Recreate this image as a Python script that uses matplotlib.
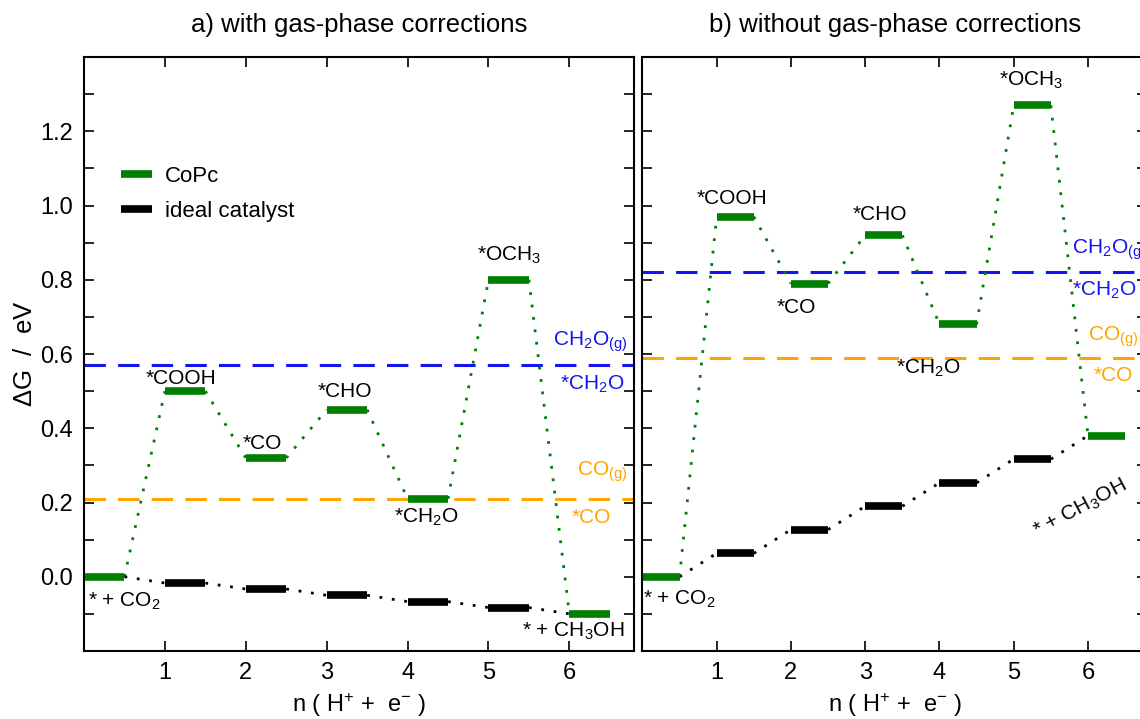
import matplotlib
matplotlib.use("Agg")
import matplotlib.pyplot as plt
from matplotlib.lines import Line2D

plt.rcParams['font.family'] = ['Liberation Sans', 'DejaVu Sans']
plt.rcParams['mathtext.fontset'] = 'custom'
plt.rcParams['mathtext.rm'] = 'Liberation Sans'
plt.rcParams['mathtext.it'] = 'Liberation Sans'
plt.rcParams['mathtext.default'] = 'regular'

# reaction steps n = 0..6
steps = [0, 1, 2, 3, 4, 5, 6]

# a) with gas-phase corrections
copc_a = [0.00, 0.50, 0.32, 0.45, 0.21, 0.80, -0.10]
ideal_a = [0.00, -0.017, -0.033, -0.050, -0.067, -0.083, -0.10]
ch2o_a = 0.57
co_a = 0.21

# b) without gas-phase corrections
copc_b = [0.00, 0.97, 0.79, 0.92, 0.68, 1.27, 0.38]
ideal_b = [0.00, 0.063, 0.127, 0.190, 0.253, 0.317, 0.38]
ch2o_b = 0.82
co_b = 0.59

green = '#008000'
blue = '#1414f0'
orange = '#ffa500'
W = 0.5  # width of a level bar


def draw_panel(ax, copc, ideal, ch2o, co):
    # dotted connectors
    for i in range(len(steps) - 1):
        ax.plot([steps[i] + W, steps[i + 1]], [copc[i], copc[i + 1]],
                color=green, lw=2, ls=(0, (1, 3.5)))
        ax.plot([steps[i] + W, steps[i + 1]], [ideal[i], ideal[i + 1]],
                color='black', lw=2, ls=(0, (1, 3.5)))
    # ideal catalyst levels (inner steps only)
    for i in steps[1:-1]:
        ax.plot([i, i + W], [ideal[i], ideal[i]], color='black', lw=5.5,
                solid_capstyle='butt')
    for i in steps:
        ax.plot([i, i + W], [copc[i], copc[i]], color=green, lw=5.5,
                solid_capstyle='butt')
    ax.axhline(ch2o, color=blue, lw=2.2, ls=(0, (7, 4)), zorder=0)
    ax.axhline(co, color=orange, lw=2.2, ls=(0, (7, 4)), zorder=0)

    ax.set_xlim(0, 6.8)
    ax.set_ylim(-0.2, 1.4)
    ax.set_xticks([1, 2, 3, 4, 5, 6])
    ax.set_yticks([-0.1 + 0.1 * k for k in range(15)], minor=True)
    ax.set_yticks([0.0, 0.2, 0.4, 0.6, 0.8, 1.0, 1.2])
    ax.tick_params(which='both', direction='in', top=True, right=True,
                   length=7, width=1.2, labelsize=17)
    ax.tick_params(axis='x', pad=8)
    ax.tick_params(axis='y', pad=8)
    for s in ax.spines.values():
        s.set_linewidth(1.5)
    ax.set_xlabel('n ( H$^{+}$ +  e$^{-}$ )', fontsize=17, labelpad=5)


fig = plt.figure(figsize=(11.4, 7.19), dpi=100)
ax1 = fig.add_axes([0.0737, 0.0946, 0.4825, 0.826])
ax2 = fig.add_axes([0.5635, 0.0946, 0.443, 0.826])

draw_panel(ax1, copc_a, ideal_a, ch2o_a, co_a)
draw_panel(ax2, copc_b, ideal_b, ch2o_b, co_b)
ax2.set_yticklabels([])
ax1.set_ylabel('$\\Delta$G  /  eV', fontsize=18.5, labelpad=2)
ax1.set_title('a) with gas-phase corrections', fontsize=18.5, pad=18)
ax2.set_title('b) without gas-phase corrections', fontsize=18.5, pad=18)

fs = 15
# panel a labels
ax1.text(1.2, 0.535, '*COOH', fontsize=fs, ha='center', va='center')
ax1.text(2.2, 0.36, '*CO', fontsize=fs, ha='center', va='center')
ax1.text(3.22, 0.50, '*CHO', fontsize=fs, ha='center', va='center')
ax1.text(4.23, 0.16, '*CH$_2$O', fontsize=fs, ha='center', va='center')
ax1.text(5.25, 0.865, '*OCH$_3$', fontsize=fs, ha='center', va='center')
ax1.text(0.5, -0.067, '* + CO$_2$', fontsize=fs, ha='center', va='center')
ax1.text(6.05, -0.148, '* + CH$_3$OH', fontsize=fs, ha='center', va='center')
ax1.text(6.72, 0.632, 'CH$_2$O$_{(g)}$', fontsize=fs, color=blue, ha='right', va='center')
ax1.text(6.68, 0.517, '*CH$_2$O', fontsize=fs, color=blue, ha='right', va='center')
ax1.text(6.72, 0.283, 'CO$_{(g)}$', fontsize=fs, color=orange, ha='right', va='center')
ax1.text(6.52, 0.159, '*CO', fontsize=fs, color=orange, ha='right', va='center')

# panel b labels
ax2.text(1.21, 1.02, '*COOH', fontsize=fs, ha='center', va='center')
ax2.text(2.07, 0.726, '*CO', fontsize=fs, ha='center', va='center')
ax2.text(3.2, 0.977, '*CHO', fontsize=fs, ha='center', va='center')
ax2.text(3.85, 0.562, '*CH$_2$O', fontsize=fs, ha='center', va='center')
ax2.text(5.24, 1.337, '*OCH$_3$', fontsize=fs, ha='center', va='center')
ax2.text(0.5, -0.062, '* + CO$_2$', fontsize=fs, ha='center', va='center')
ax2.text(5.9, 0.185, '* + CH$_3$OH', fontsize=fs, ha='center', va='center', rotation=28)
ax2.text(5.78, 0.88, 'CH$_2$O$_{(g)}$', fontsize=fs, color=blue, ha='left', va='center')
ax2.text(5.79, 0.772, '*CH$_2$O', fontsize=fs, color=blue, ha='left', va='center')
ax2.text(6.0, 0.646, 'CO$_{(g)}$', fontsize=fs, color=orange, ha='left', va='center')
ax2.text(6.07, 0.543, '*CO', fontsize=fs, color=orange, ha='left', va='center')

handles = [Line2D([], [], color=green, lw=5.5, solid_capstyle='butt'),
           Line2D([], [], color='black', lw=5.5, solid_capstyle='butt')]
ax1.legend(handles, ['CoPc', 'ideal catalyst'], loc='upper left',
           bbox_to_anchor=(0.03, 0.85), frameon=False, fontsize=16,
           handlelength=1.4, handletextpad=0.6, labelspacing=0.6)

fig.savefig('out.png', dpi=100)
